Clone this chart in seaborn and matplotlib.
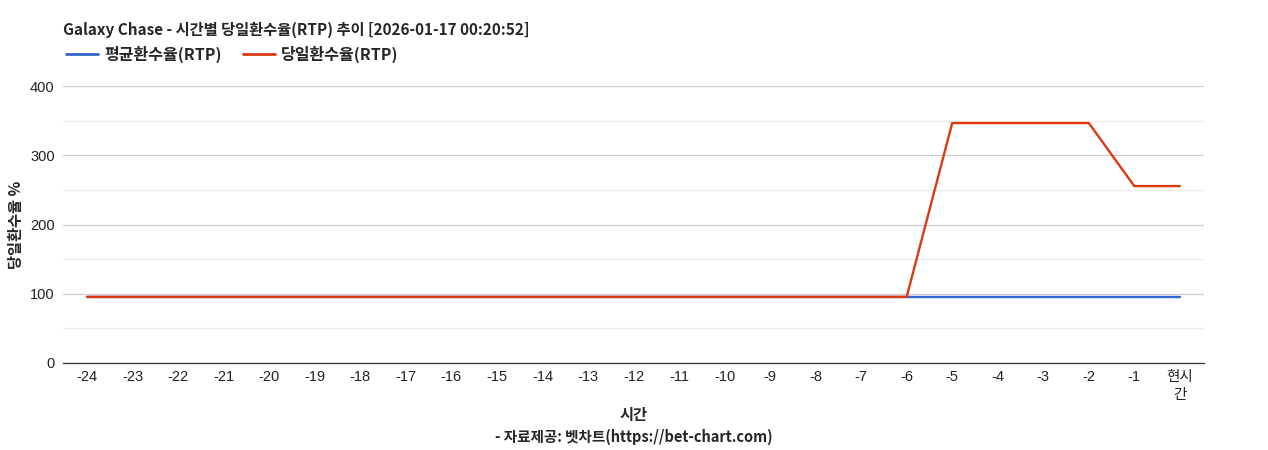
import matplotlib
matplotlib.use('Agg')
import matplotlib.pyplot as plt
from matplotlib.lines import Line2D
from matplotlib.ticker import MultipleLocator
import seaborn as sns
import pandas as pd

hours = [str(h) for h in range(-24, 0)] + ['현시\n간']
avg_rtp = [95.5] * 25
day_rtp = [95.5] * 19 + [346.5, 346.5, 346.5, 346.5, 255.5, 255.5]

title = 'Galaxy Chase - 시간별 당일환수율(RTP) 추이 [2026-01-17 00:20:52]'
series_names = ['평균환수율(RTP)', '당일환수율(RTP)']
colors = ['#3366cc', '#dc3912']

sns.set_style('white')
plt.rcParams['font.family'] = ['Noto Sans CJK KR', 'DejaVu Sans']
tick_font = ['Liberation Sans', 'Noto Sans CJK KR']

df = pd.DataFrame({
    'pos': list(range(len(hours))) * 2,
    'rtp': avg_rtp + day_rtp,
    'series': [series_names[0]] * len(hours) + [series_names[1]] * len(hours),
})

fig = plt.figure(figsize=(12.68, 4.5), dpi=100)
ax = fig.add_axes([63 / 1268, 87 / 450, (1204 - 63) / 1268, (363 - 86) / 450])

sns.lineplot(data=df, x='pos', y='rtp', hue='series', palette=colors,
             linewidth=1.7, ax=ax, legend=False, zorder=3)

ax.set_xlim(-0.53, len(hours) - 0.47)
ax.set_ylim(0, 400)
ax.yaxis.set_major_locator(MultipleLocator(100))
ax.yaxis.set_minor_locator(MultipleLocator(50))
ax.grid(which='major', axis='y', color='#cccccc', linewidth=0.9, zorder=0)
ax.grid(which='minor', axis='y', color='#ebebeb', linewidth=0.9, zorder=0)
ax.set_axisbelow(True)
for s in ['top', 'right', 'left']:
    ax.spines[s].set_visible(False)
ax.spines['bottom'].set_color('#333333')
ax.spines['bottom'].set_linewidth(0.9)

ax.set_xticks(range(len(hours)))
ax.set_xticklabels(hours, fontsize=10.5, color='#222222', linespacing=1.35,
                   family=tick_font)
ax.tick_params(axis='y', labelsize=10.5, colors='#222222', length=0, pad=6)
ax.tick_params(axis='x', length=0, pad=5)
ax.tick_params(which='minor', length=0)
for lab in ax.get_yticklabels():
    lab.set_family(tick_font)

ax.set_xlabel('')
ax.set_ylabel('당일환수율 %', fontsize=11, fontweight='bold')
ax.yaxis.set_label_coords((24 - 63) / (1204 - 63), 0.5)
fig.text((63 + 1204) / 2 / 1268, 1 - 415 / 450, '시간', ha='center', va='center',
         fontsize=11, fontweight='bold')
fig.text((63 + 1204) / 2 / 1268, 1 - 437 / 450, '- 자료제공: 벳차트(https://bet-chart.com)',
         ha='center', va='center', fontsize=10.5, fontweight='bold')

fig.text(63 / 1268, 1 - 30 / 450, title, ha='left', va='center',
         fontsize=11, fontweight='bold')

handles = [Line2D([0], [0], color=c, linewidth=2) for c in colors]
fig.legend(handles, series_names, loc='center left',
           bbox_to_anchor=(60 / 1268, 1 - 54 / 450), ncol=2, frameon=False,
           prop={'weight': 'bold', 'size': 11.5}, handlelength=2.0,
           handletextpad=0.4, columnspacing=1.3, borderaxespad=0)

fig.savefig('out.png', dpi=100)
